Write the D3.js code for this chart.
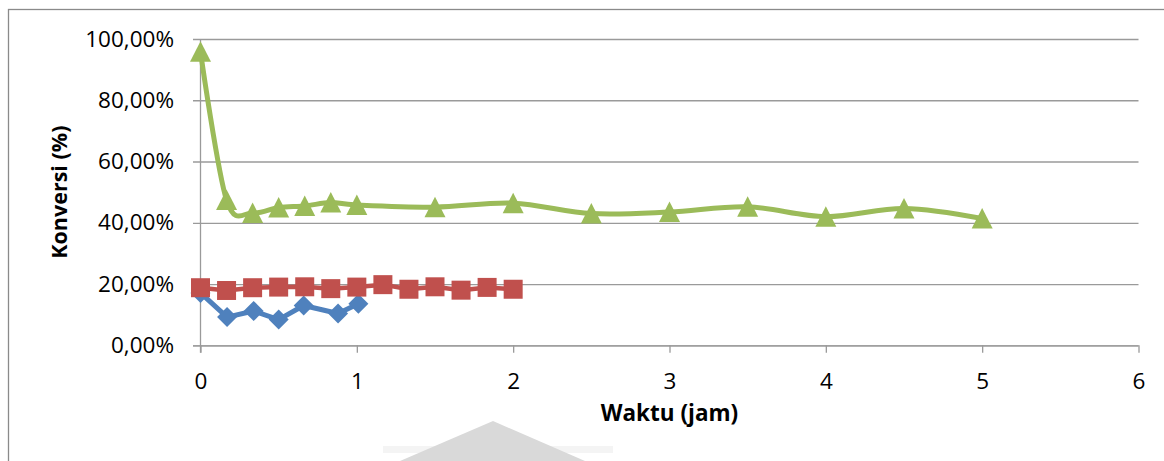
<!DOCTYPE html>
<html>
<head>
<meta charset="utf-8">
<script src="https://cdn.jsdelivr.net/npm/d3@7"></script>
<style>
  html, body { margin: 0; padding: 0; background: #fff; }
  svg { display: block; }
  text { font-family: "Open Sans", "Noto Sans", sans-serif; fill: #000; }
</style>
</head>
<body>
<svg id="chart" width="1164" height="461"></svg>
<script>
// Time (hours) and conversion (%) for each run
const blueTime = [0, 0.17, 0.34, 0.5, 0.66, 0.88, 1.01];
const blueConv = [17.1, 9.2, 11.2, 8.4, 13.0, 10.4, 13.6];

const redTime = [0, 1/6, 2/6, 3/6, 4/6, 5/6, 1, 7/6, 8/6, 9/6, 10/6, 11/6, 2];
const redConv = [18.8, 17.9, 18.8, 19.0, 19.1, 18.5, 19.0, 19.8, 18.3, 19.1, 18.0, 18.9, 18.3];

const greenTime = [0, 1/6, 2/6, 3/6, 4/6, 5/6, 1, 1.5, 2, 2.5, 3, 3.5, 4, 4.5, 5];
const greenConv = [95.8, 47.4, 43.2, 45.0, 45.5, 46.6, 45.8, 45.1, 46.4, 43.0, 43.5, 45.2, 42.0, 44.7, 41.4];

const xTicks = [0, 1, 2, 3, 4, 5, 6];
const yTicks = [0, 20, 40, 60, 80, 100];

const xTitle = "Waktu (jam)";
const yTitle = "Konversi (%)";

const svg = d3.select("#chart");

// Faint grey mark at the bottom edge
svg.append("rect").attr("x", 383).attr("y", 446).attr("width", 230).attr("height", 7)
  .attr("fill", "#f4f4f4");
svg.append("path")
  .attr("d", "M400,461L493,421L585,461Z")
  .attr("fill", "#d9d9d9");

// Outer chart frame (only top and left edges fall inside the view)
svg.append("rect")
  .attr("x", 8.5).attr("y", 9.5)
  .attr("width", 1200).attr("height", 500)
  .attr("fill", "none").attr("stroke", "#8a8a8a").attr("stroke-width", 1.3);

const x = d3.scaleLinear().domain([0, 6]).range([200.5, 1138.5]);
const y = d3.scaleLinear().domain([0, 100]).range([345.3, 39]);

const idLocale = d3.formatLocale({ decimal: ",", thousands: ".", grouping: [3], currency: ["Rp", ""] });
const pct = v => idLocale.format(".2f")(v) + "%";

const gridColor = "#9a9a9a";
const tickFont = 22.5;

// Horizontal gridlines with left tick stubs
const yAxis = d3.axisLeft(y).tickValues(yTicks).tickFormat(pct)
  .tickSize(-(x(6) - x(0))).tickPadding(26.5);
const gy = svg.append("g").attr("transform", `translate(${x(0)},0)`).call(yAxis);
gy.select(".domain").remove();
gy.selectAll(".tick line").attr("stroke", gridColor).attr("stroke-width", 1.3)
  .attr("x1", -7.5);
gy.selectAll(".tick text").attr("font-size", tickFont).attr("fill", "#000");

// Vertical axis line
svg.append("line")
  .attr("x1", x(0)).attr("x2", x(0)).attr("y1", y(100)).attr("y2", y(0) + 7.5)
  .attr("stroke", gridColor).attr("stroke-width", 1.3);

// Horizontal axis with tick marks below
const xAxis = d3.axisBottom(x).tickValues(xTicks).tickFormat(d3.format("d"))
  .tickSize(7.5).tickPadding(20);
const gx = svg.append("g").attr("transform", `translate(0,${y(0)})`).call(xAxis);
gx.select(".domain").attr("stroke", gridColor).attr("stroke-width", 1.3)
  .attr("d", `M${x(0) - 7.5},0.5H${x(6)}`);
gx.selectAll(".tick line").attr("stroke", gridColor).attr("stroke-width", 1.3);
gx.selectAll(".tick text").attr("font-size", tickFont).attr("fill", "#000");

// Axis titles
svg.append("text")
  .attr("x", (x(0) + x(6)) / 2).attr("y", 421)
  .attr("text-anchor", "middle").attr("font-size", 22.5).attr("font-weight", "bold")
  .attr("fill", "#000").text(xTitle);
svg.append("text")
  .attr("transform", `translate(67,${(y(0) + y(100)) / 2}) rotate(-90)`)
  .attr("text-anchor", "middle").attr("font-size", 21.5).attr("font-weight", "bold")
  .attr("fill", "#000").text(yTitle);

// Series
const blue = blueTime.map((t, i) => [t, blueConv[i]]);
const red = redTime.map((t, i) => [t, redConv[i]]);
const green = greenTime.map((t, i) => [t, greenConv[i]]);

const straight = d3.line().x(d => x(d[0])).y(d => y(d[1]));
const smooth = d3.line().x(d => x(d[0])).y(d => y(d[1])).curve(d3.curveCardinal.tension(0));

const diamond = "M0,-10L10,0L0,10L-10,0Z";
const square = "M-9.5,-9.5H9.5V9.5H-9.5Z";
const triangle = "M0,-10.5L10.5,10L-10.5,10Z";

function drawSeries(data, line, color, width, shape) {
  const g = svg.append("g");
  g.append("path").attr("d", line(data))
    .attr("fill", "none").attr("stroke", color).attr("stroke-width", width)
    .attr("stroke-linejoin", "round");
  g.selectAll("path.m").data(data).join("path")
    .attr("class", "m")
    .attr("d", shape)
    .attr("transform", d => `translate(${x(d[0])},${y(d[1])})`)
    .attr("fill", color);
}

drawSeries(blue, straight, "#4f81bd", 5, diamond);
drawSeries(red, straight, "#c0504d", 4.5, square);
drawSeries(green, smooth, "#9bbb59", 5, triangle);
</script>
</body>
</html>
